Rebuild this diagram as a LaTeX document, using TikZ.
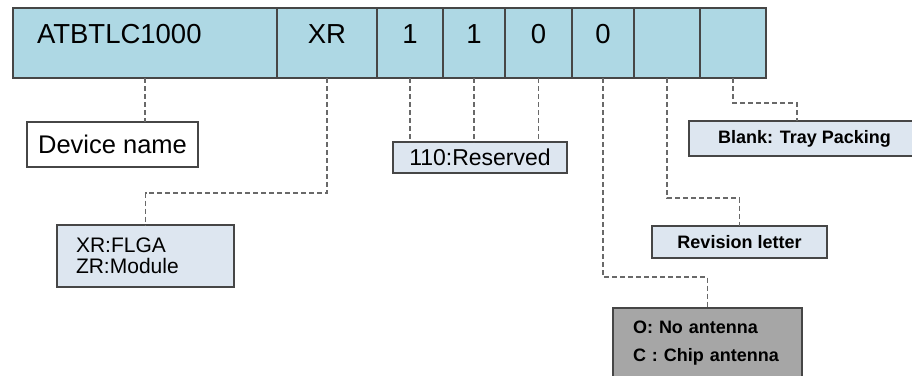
\documentclass[tikz,border=0pt]{standalone}
\usepackage{fontspec}
\setmainfont{Liberation Sans}
\usetikzlibrary{positioning}
\definecolor{barblue}{RGB}{174,216,228}
\definecolor{tagblue}{RGB}{221,230,240}
\definecolor{antgray}{RGB}{166,166,166}
\definecolor{edgegray}{RGB}{70,70,70}
\definecolor{linkgray}{RGB}{105,105,105}

\begin{document}
\begin{tikzpicture}[x=1pt,y=-1pt,
    cell/.style={draw=edgegray, line width=1.3pt, fill=barblue, outer sep=0pt, inner xsep=0pt,
      minimum height=70pt, text height=21pt, text depth=21pt, font=\fontsize{27.5}{30}\selectfont},
    tag/.style={draw=edgegray, line width=1.4pt, fill=tagblue, outer sep=0pt, inner sep=0pt},
    small/.style={font=\fontsize{18}{28}\selectfont\bfseries},
    link/.style={draw=linkgray, line width=1.2pt, dash pattern=on 5pt off 3pt}]
    \useasboundingbox (0,0) rectangle (912,375);
    \node[cell, minimum width=264pt, text width=216pt, align=left] (d) at (145,43) {ATBTLC1000};
    \node[cell, minimum width=100pt, right=0pt of d] (p) {XR};
    \node[cell, minimum width=66pt, right=0pt of p] (b1) {1};
    \node[cell, minimum width=62pt, right=0pt of b1] (b2) {1};
    \node[cell, minimum width=67pt, right=0pt of b2] (b3) {0};
    \node[cell, minimum width=62pt, right=0pt of b3] (a) {0};
    \node[cell, minimum width=66pt, right=0pt of a] (r) {};
    \node[cell, minimum width=66pt, right=0pt of r] (k) {};

    \node[tag, fill=white, minimum width=171pt, minimum height=45pt,
      font=\fontsize{25.5}{28}\selectfont] (dn) at (112.5,144.5) {Device name};
    \node[tag, minimum width=177pt, minimum height=62pt, text width=139pt, align=left,
      font=\fontsize{21}{21}\selectfont] (pl) at (145.5,256) {XR:FLGA\\ZR:Module};
    \node[tag, minimum width=174pt, minimum height=31pt,
      font=\fontsize{23}{25}\selectfont] (rl) at (480,157.5) {110:Reserved};
    \node[tag, small, minimum width=231pt, minimum height=35pt] (kl) at (804.5,138.5) {Blank: Tray Packing};
    \node[tag, small, minimum width=175pt, minimum height=32pt] (rv) at (739.5,242) {Revision letter};
    \node[tag, small, fill=antgray, minimum width=189pt, minimum height=70pt, text width=149pt,
      align=left] (al) at (707.5,343) {O: No antenna\\C : Chip antenna};

    \draw[link] (d.south) -- (d.south |- dn.north);
    \draw[link] (p.south) -- ++(0,115) -| (pl.north);
    \draw[link] (b1.south) -- (b1.south |- rl.north);
    \draw[link] (b2.south) -- (b2.south |- rl.north);
    \draw[link] (b3.south) -- (b3.south |- rl.north);
    \draw[link] (a.south) -- ++(0,199) -| (al.north);
    \draw[link] (r.south) -- ++(0,120) -| (rv.north);
    \draw[link] (k.south) -- ++(0,25) -| ([xshift=-7.5pt]kl.north);
\end{tikzpicture}
\end{document}
